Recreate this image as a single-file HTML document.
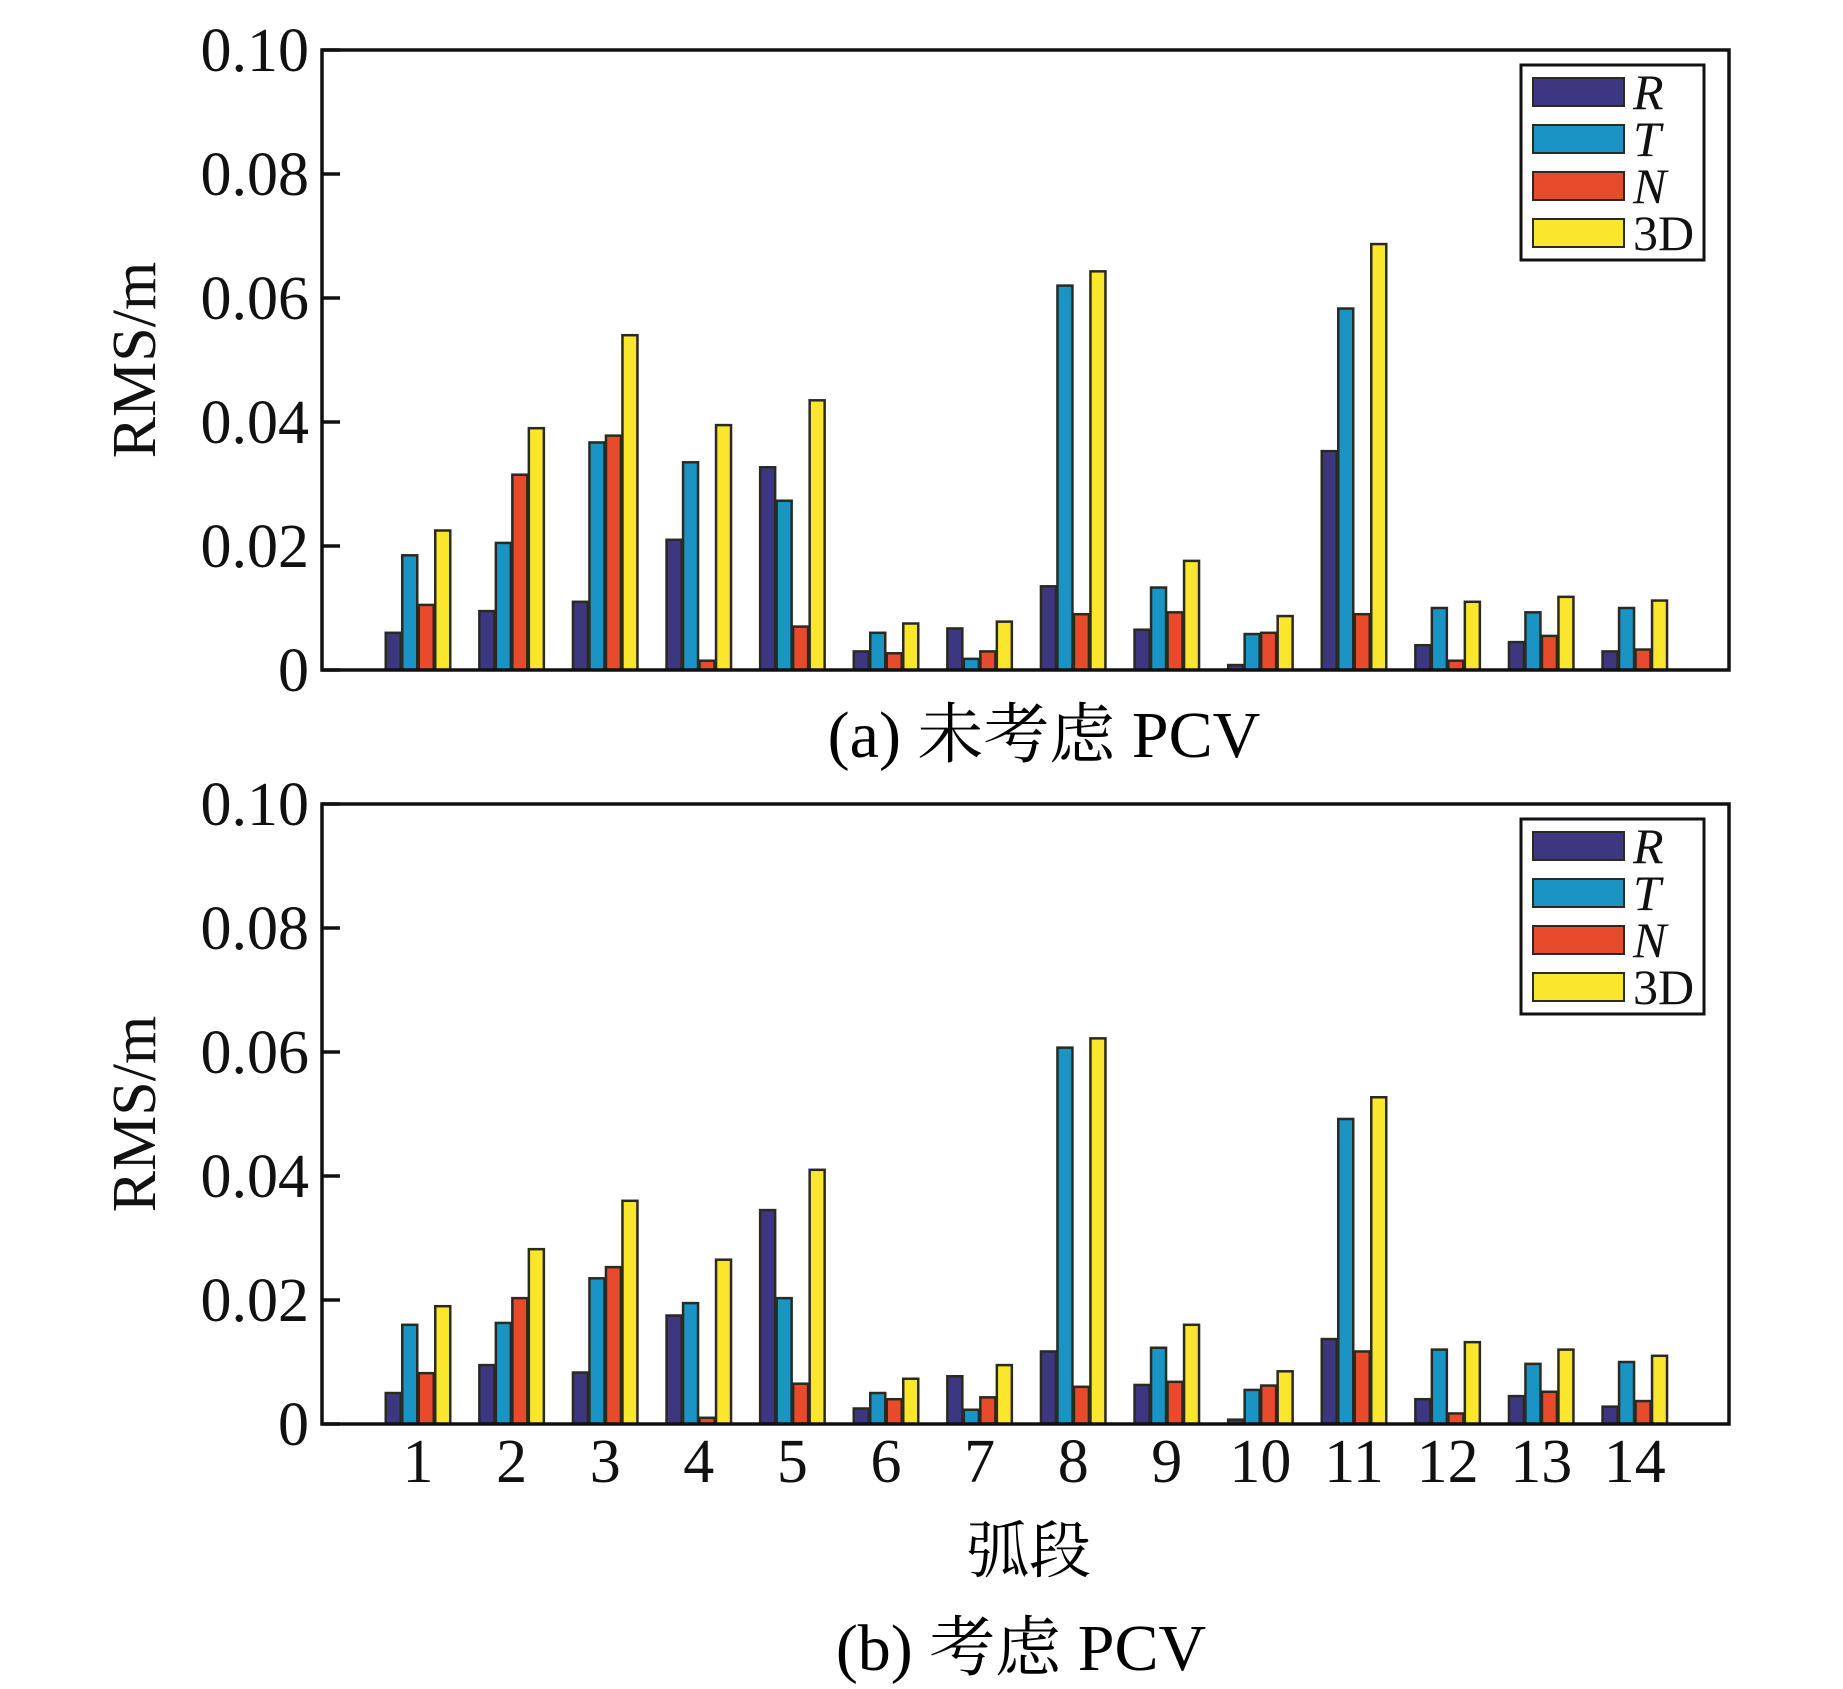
<!DOCTYPE html>
<html><head><meta charset="utf-8"><style>
html,body{margin:0;padding:0;background:#fff;}
svg{display:block;font-family:"Liberation Serif","Noto Serif CJK SC",serif;}
</style></head><body>
<svg id="chart" width="1843" height="1689" viewBox="0 0 1843 1689">
<text x="1044" y="757" font-size="66" text-anchor="middle">(a) 未考虑 PCV</text>
<text x="1029" y="1572" font-size="62" text-anchor="middle">弧段</text>
<text x="1021" y="1670" font-size="66" text-anchor="middle">(b) 考虑 PCV</text>
</svg>
<script>
const categories = ["1","2","3","4","5","6","7","8","9","10","11","12","13","14"];
const seriesNames = ["R","T","N","3D"];
const yTicks = [0, 0.02, 0.04, 0.06, 0.08, 0.10];
const yTickLabels = ["0","0.02","0.04","0.06","0.08","0.10"];
const aR = [0.006,0.0095,0.011,0.021,0.0327,0.003,0.0067,0.0135,0.0065,0.0008,0.0353,0.004,0.0045,0.003];
const aT = [0.0185,0.0205,0.0367,0.0335,0.0273,0.006,0.0018,0.062,0.0133,0.0058,0.0583,0.010,0.0093,0.010];
const aN = [0.0105,0.0315,0.0378,0.0015,0.007,0.0027,0.003,0.009,0.0093,0.006,0.009,0.0015,0.0055,0.0033];
const a3D = [0.0225,0.039,0.054,0.0395,0.0435,0.0075,0.0078,0.0643,0.0176,0.0087,0.0687,0.011,0.0118,0.0112];
const bR = [0.005,0.0095,0.0083,0.0175,0.0345,0.0025,0.0077,0.0117,0.0063,0.0007,0.0137,0.004,0.0045,0.0028];
const bT = [0.016,0.0163,0.0235,0.0195,0.0203,0.005,0.0023,0.0607,0.0123,0.0055,0.0492,0.012,0.0097,0.010];
const bN = [0.0082,0.0203,0.0253,0.001,0.0065,0.004,0.0043,0.006,0.0068,0.0062,0.0117,0.0017,0.0052,0.0037];
const b3D = [0.019,0.0282,0.036,0.0265,0.041,0.0073,0.0095,0.0622,0.016,0.0085,0.0527,0.0132,0.012,0.011];

const colors = ["#3d3680","#1a94c4","#e84a2c","#fbe62e"];
const NS = "http://www.w3.org/2000/svg";
const svg = document.getElementById("chart");
function mk(tag, attrs, parent){ const e=document.createElementNS(NS,tag); for(const k in attrs) e.setAttribute(k,attrs[k]); (parent||svg).appendChild(e); return e; }

const X0=322, X1=1729, groupStart=418, groupStep=93.6, barW=15, barStep=16.5;
function xPos(i, s){ return groupStart + i*groupStep + (s-1.5)*barStep - barW/2; }

function panel(key, top, bottom, series, showX){
  const g = mk("g",{});
  
  
  const y = v => bottom - v/0.10*(bottom-top);
  series.forEach((arr, s) => {
    arr.forEach((v, i) => {
      const r = mk("rect",{x:xPos(i,s), y:y(v), width:barW, height:bottom-y(v), fill:colors[s], stroke:"#2a2a22", "stroke-width":2.5}, g);
      
      
    });
  });
  const f = mk("rect",{x:X0, y:top, width:X1-X0, height:bottom-top, fill:"none", stroke:"#111", "stroke-width":3.5}, g);
  
  
  yTicks.forEach((t, k) => {
    mk("line",{x1:X0, x2:X0+18, y1:y(t), y2:y(t), stroke:"#111", "stroke-width":3.5}, g);
    const tx = mk("text",{x:309, y:y(t)+21, "font-size":62, "text-anchor":"end", fill:"#111"}, g);
    tx.textContent = yTickLabels[k];
    
    
  });
  const yl = mk("text",{x:0, y:0, "font-size":62, "text-anchor":"middle", transform:`translate(155,${(top+bottom)/2}) rotate(-90)`, fill:"#111"}, g);
  yl.textContent = "RMS/m";
  
  
  if(showX){
    categories.forEach((c,i)=>{
      const tx = mk("text",{x:groupStart+i*groupStep, y:bottom+58, "font-size":62, "text-anchor":"middle", fill:"#111"}, g);
      tx.textContent = c;
      
      
    });
  }
  const lt = top+15;
  const lg = mk("g",{}, g);
  
  
  mk("rect",{x:1521, y:lt, width:183, height:195, fill:"#fff", stroke:"#111", "stroke-width":3}, lg);
  seriesNames.forEach((n,s)=>{
    const cy = lt + 27 + s*47;
    const e = mk("g",{}, lg);
    
    
    mk("rect",{x:1533, y:cy-14, width:91, height:28, fill:colors[s], stroke:"#2a2a22", "stroke-width":2}, e);
    const tx = mk("text",{x:1633, y:cy+17, "font-size":50, fill:"#111", "font-style": n==="3D"?"normal":"italic"}, e);
    tx.textContent = n;
  });
}
panel("a", 50, 670, [aR,aT,aN,a3D], false);
panel("b", 804, 1424, [bR,bT,bN,b3D], true);
</script>
</body></html>
